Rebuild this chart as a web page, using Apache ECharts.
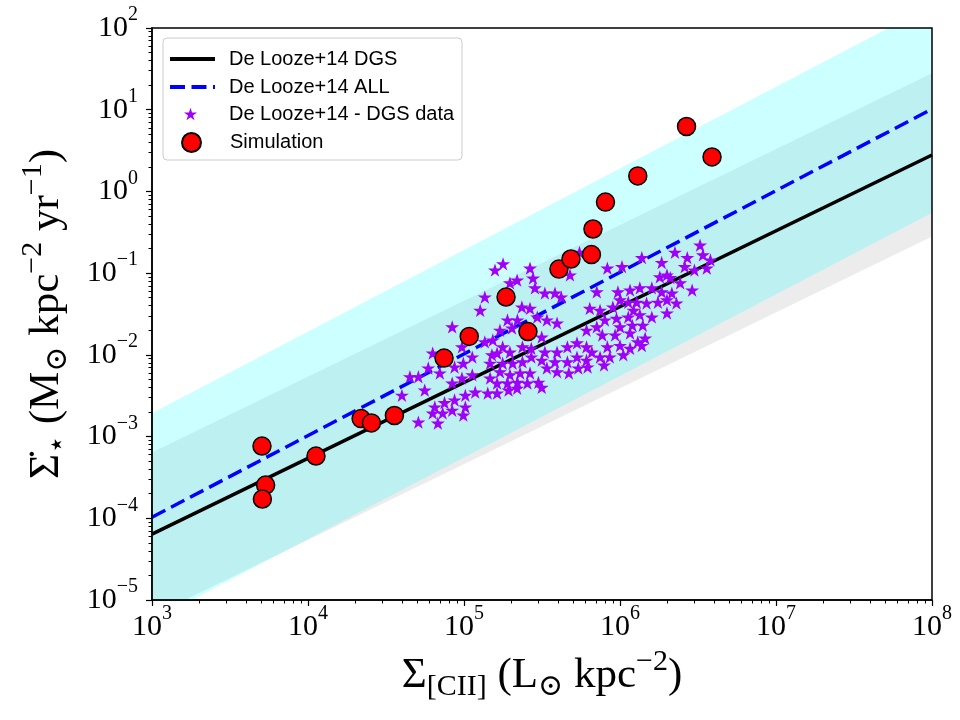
<!DOCTYPE html>
<html>
<head>
<meta charset="utf-8">
<script src="https://cdn.jsdelivr.net/npm/echarts@6/dist/echarts.min.js"></script>
<style>
html, body { margin: 0; background: #fff; }
#chart { width: 960px; height: 720px; }
</style>
</head>
<body>
<div id="chart"></div>
<script>
// axis ticks
const xTicks = [1e3, 1e4, 1e5, 1e6, 1e7, 1e8]
const yTicks = [1e-5, 1e-4, 1e-3, 1e-2, 1e-1, 1e0, 1e1, 1e2]

// fit lines (end points at the axis limits)
const lineX = [1e3, 1e8]
const dgsY = [6.4e-5, 2.79]
const allY = [1.03e-4, 10.2]

// scatter bands around the fits
const allUpper = [1.93e-3, 190]
const allLower = [5.6e-6, 0.55]
const dgsUpper = [6.4e-4, 27.9]
const dgsLower = [6.4e-6, 0.28]

// De Looze+14 DGS galaxies
const starX = [
  4.0e4, 4.5e4, 5.1e4, 5.6e4, 5.9e4, 7.0e4, 6.3e4, 5.1e4, 6.8e4, 6.5e4,
  7.5e4, 8.7e4, 1.02e5, 6.3e4, 7.3e4, 8.4e4, 9.9e4, 8.4e4, 9.7e4, 1.13e5,
  1.47e5, 1.02e5, 1.18e5, 1.42e5, 8.4e4, 9.7e4, 1.13e5, 9.9e4, 8.7e4, 1.51e5,
  1.47e5, 1.36e5, 1.53e5, 1.36e5, 1.27e5, 1.58e5, 1.78e5,
  2.65e5, 2.77e5, 2.19e5, 1.97e5, 2.85e5, 3.3e5, 3.83e5, 4.2e5, 2.35e5, 2.65e5,
  4.78e5, 6.4e5, 7.45e5, 7.1e5, 1.9e5, 2.2e5, 2.95e5, 3.4e5, 3.95e5, 1.7e5,
  2.03e5, 3.15e5, 6.1e5, 7.1e5, 7.7e5, 1.77e5, 1.97e5, 1.63e5, 2.37e5, 2.7e5,
  3.3e5, 3.95e5, 4.6e5, 5.3e5, 6.1e5, 6.6e5, 7.45e5, 1.77e5, 2.05e5, 2.37e5,
  2.7e5, 3.15e5, 3.83e5, 4.6e5, 5.3e5, 6.1e5, 1.7e5, 1.97e5, 2.29e5, 2.65e5,
  3.4e5, 3.95e5, 4.7e5, 5.4e5, 6.2e5, 1.63e5, 1.9e5, 2.2e5, 2.55e5, 3.0e5,
  3.15e5, 1.63e5, 1.93e5, 2.19e5,
  3.26e6, 3.4e6, 2.7e6, 2.25e6, 2.6e6, 3.0e6, 3.6e6, 3.8e6, 1.38e6, 8.3e5,
  1.03e6, 1.85e6, 2.0e6, 1.8e6, 2.43e6, 2.9e6, 9.7e5, 1.16e6, 1.34e6, 1.6e6,
  1.85e6, 2.15e6, 1.0e6, 1.13e6, 1.28e6, 1.48e6, 1.75e6, 2.0e6, 2.3e6, 9.0e5,
  1.22e6, 2.0e6, 8.0e5, 9.5e5, 1.13e6, 1.34e6, 1.6e6, 1.0e6, 1.2e6, 1.4e6,
  9.3e5, 1.16e6, 1.45e6, 1.3e6, 8.3e5, 1.0e6, 1.16e6, 1.38e6, 8.6e5, 1.05e6,
  7.9e5, 2.1e6, 5.5e5
]
const starY = [
  3.2e-3, 5.4e-3, 5.4e-3, 3.7e-3, 6.9e-3, 6.0e-3, 1.05e-2, 1.5e-3, 1.46e-3, 2.3e-3,
  2.6e-3, 2.8e-3, 2.3e-3, 1.94e-3, 1.94e-3, 2.1e-3, 1.83e-3, 4.5e-3, 5.2e-3, 5.7e-3,
  5.2e-3, 3.2e-3, 3.5e-3, 3.4e-3, 2.2e-2, 1.25e-2, 9.4e-3, 7.9e-3, 7.1e-3, 1.0e-2,
  7.9e-3, 1.44e-2, 1.52e-2, 5.1e-2, 3.5e-2, 0.109, 0.13,
  0.115, 8.7e-2, 8.2e-2, 7.6e-2, 6.6e-2, 5.7e-2, 5.7e-2, 5.1e-2, 3.85e-2, 3.7e-2,
  9.5e-2, 3.7e-2, 3.5e-2, 5.9e-2, 2.67e-2, 2.67e-2, 2.9e-2, 2.67e-2, 2.45e-2, 2.0e-2,
  2.13e-2, 1.65e-2, 2.0e-2, 2.2e-2, 1.75e-2, 1.25e-2, 1.08e-2, 1.05e-2, 1.25e-2, 1.2e-2,
  1.08e-2, 1.08e-2, 1.25e-2, 1.4e-2, 1.25e-2, 1.08e-2, 9.4e-3, 7.9e-3, 7.9e-3, 8.2e-3,
  9.4e-3, 8.6e-3, 8.2e-3, 8.2e-3, 9.4e-3, 8.6e-3, 6.2e-3, 5.7e-3, 6.0e-3, 6.0e-3,
  6.9e-3, 6.2e-3, 6.0e-3, 6.9e-3, 7.1e-3, 4.5e-3, 4.5e-3, 4.6e-3, 4.5e-3, 4.6e-3,
  4.0e-3, 3.4e-3, 3.7e-3, 3.9e-3,
  0.22, 0.167, 0.155, 0.18, 0.12, 0.109, 0.115, 0.145, 0.155, 0.115,
  0.12, 0.135, 9.5e-2, 9.0e-2, 7.6e-2, 6.2e-2, 5.9e-2, 6.2e-2, 6.6e-2, 6.6e-2,
  5.9e-2, 5.7e-2, 4.7e-2, 4.4e-2, 4.4e-2, 4.3e-2, 4.4e-2, 4.7e-2, 4.3e-2, 3.85e-2,
  3.5e-2, 3.25e-2, 2.67e-2, 2.8e-2, 2.9e-2, 3.1e-2, 2.9e-2, 2.2e-2, 2.3e-2, 2.3e-2,
  1.75e-2, 1.85e-2, 1.6e-2, 1.44e-2, 1.25e-2, 1.3e-2, 1.2e-2, 1.3e-2, 9.4e-3, 1.0e-2,
  7.5e-3, 8.8e-2, 0.18
]

// simulation
const simX = [5.07e3, 5.35e3, 5.1e3, 1.125e4, 2.19e4, 2.55e4, 3.58e4, 7.45e4, 1.08e5, 1.86e5,
  2.57e5, 4.06e5, 4.85e5, 6.56e5, 6.71e5, 8.07e5, 1.30e6, 2.67e6, 3.89e6]
const simY = [7.66e-4, 2.55e-4, 1.72e-4, 5.78e-4, 1.66e-3, 1.47e-3, 1.81e-3, 9.14e-3, 1.68e-2, 5.1e-2,
  1.93e-2, 0.112, 0.149, 0.169, 0.347, 0.741, 1.55, 6.23, 2.64]

// minor ticks 2..9 x 10^n
const xMinor = []
for (let d = 0; d < xTicks.length - 1; d++) for (let m = 2; m <= 9; m++) xMinor.push(m * xTicks[d])
const yMinor = []
for (let d = 0; d < yTicks.length - 1; d++) for (let m = 2; m <= 9; m++) yMinor.push(m * yTicks[d])

const serif = "'Liberation Serif', 'DejaVu Serif', serif"
const sans = "'Liberation Sans', Arial, sans-serif"
const starPath = 'path://M50 0L61.23 34.55L97.55 34.55L68.16 55.9L79.39 90.45L50 69.1L20.61 90.45L31.84 55.9L2.45 34.55L38.77 34.55Z'

const tickRich = {
  b: { fontSize: 30, fontFamily: serif, color: '#000' },
  e: { fontSize: 20, fontFamily: serif, color: '#000', padding: [0, 0, 26, 0] }
}
function powLabel(v) {
  const n = Math.round(Math.log10(v))
  return '{b|10}{e|' + String(n).replace('-', '\u2212') + '}'
}
const titleRich = {
  m: { fontSize: 43, fontFamily: serif, color: '#000' },
  sub: { fontSize: 30, fontFamily: serif, color: '#000', padding: [22, 0, 0, 0] },
  sup: { fontSize: 30, fontFamily: serif, color: '#000', padding: [0, 0, 28, 0] }
}

function band(upper, lower, color) {
  return {
    type: 'custom', silent: true, clip: true, z: 1,
    xAxisIndex: 0, yAxisIndex: 0,
    data: lineX.map((x, i) => [x, upper[i], lower[i]]),
    encode: { x: 0, y: [1, 2] },
    renderItem(params, api) {
      if (params.dataIndex !== 0) return
      const top = lineX.map((x, i) => api.coord([x, upper[i]]))
      const bot = lineX.map((x, i) => api.coord([x, lower[i]])).reverse()
      return { type: 'polygon', shape: { points: top.concat(bot) }, style: { fill: color } }
    }
  }
}

function legendRow(name, left, top, w, h, pad, isLine) {
  const row = {
    orient: 'vertical', left, top, itemWidth: w, itemHeight: h, padding: 0,
    selectedMode: false, data: [name],
    formatter: '{t|{name}}',
    textStyle: {
      fontSize: 20, fontFamily: sans, color: '#000',
      rich: { t: { fontSize: 20, fontFamily: sans, color: '#000', padding: [0, 0, 0, pad] } }
    }
  }
  if (isLine) {
    row.itemStyle = { opacity: 0 }
    row.lineStyle = { width: 4 }
  }
  return row
}

const grid = { left: 152, right: 28, top: 28, bottom: 120 }

const chart = echarts.init(document.getElementById('chart'))
chart.setOption({
  animation: false,
  grid: [grid, grid],
  xAxis: [{
    type: 'log', logBase: 10, min: 1e3, max: 1e8, gridIndex: 0,
    axisLine: { show: true, lineStyle: { color: '#000', width: 1.5 } },
    axisTick: { show: true, length: 6, customValues: xTicks, lineStyle: { color: '#000', width: 1.2 } },
    axisLabel: { customValues: xTicks, formatter: powLabel, rich: tickRich, margin: 4 },
    splitLine: { show: false },
    name: '{m|\u03A3}{sub|[CII]}{m| (L}{sub|\u2299}{m| kpc}{sup|\u22122}{m|)}',
    nameLocation: 'middle', nameGap: 44, nameTextStyle: { rich: titleRich }
  }, {
    type: 'log', logBase: 10, min: 1e3, max: 1e8, gridIndex: 1,
    axisLine: { show: false },
    axisTick: { show: true, length: 3.5, customValues: xMinor, lineStyle: { color: '#000', width: 1 } },
    axisLabel: { show: false }, splitLine: { show: false }
  }],
  yAxis: [{
    type: 'log', logBase: 10, min: 1e-5, max: 1e2, gridIndex: 0,
    axisLine: { show: true, lineStyle: { color: '#000', width: 1.5 } },
    axisTick: { show: true, length: 6, customValues: yTicks, lineStyle: { color: '#000', width: 1.2 } },
    axisLabel: { customValues: yTicks, formatter: powLabel, rich: tickRich, margin: 14 },
    splitLine: { show: false },
    name: '{m|\u03A3\u0307}{sub|\u22C6}{m| (M}{sub|\u2299}{m| kpc}{sup|\u22122}{m| yr}{sup|\u22121}{m|)}',
    nameLocation: 'middle', nameRotate: 90, nameGap: 76, nameTextStyle: { rich: titleRich }
  }, {
    type: 'log', logBase: 10, min: 1e-5, max: 1e2, gridIndex: 1,
    axisLine: { show: false },
    axisTick: { show: true, length: 3.5, customValues: yMinor, lineStyle: { color: '#000', width: 1 } },
    axisLabel: { show: false }, splitLine: { show: false }
  }],
  legend: [
    legendRow('De Looze+14 DGS', 168, 49, 45, 20, 9, true),
    legendRow('De Looze+14 ALL', 168, 77, 45, 20, 9, true),
    legendRow('De Looze+14 - DGS data', 184, 104, 13, 13, 27, false),
    legendRow('Simulation', 181, 132, 19, 19, 24, false)
  ],
  graphic: [
    { type: 'rect', z: 3, shape: { x: 163, y: 38, width: 299, height: 122, r: 4 },
      style: { fill: 'rgba(255,255,255,0.8)', stroke: '#cccccc', lineWidth: 1 } },
    { type: 'rect', z: 100, silent: true, shape: { x: 152, y: 28, width: 780, height: 572 },
      style: { fill: 'none', stroke: '#000', lineWidth: 1.5 } }
  ],
  series: [
    band(dgsUpper, dgsLower, 'rgba(128,128,128,0.15)'),
    band(allUpper, allLower, 'rgba(0,255,255,0.2)'),
    {
      name: 'De Looze+14 DGS', type: 'line', z: 2, symbol: 'none',
      data: lineX.map((x, i) => [x, dgsY[i]]),
      itemStyle: { color: '#000' },
      lineStyle: { color: '#000', width: 3.5 }
    },
    {
      name: 'De Looze+14 ALL', type: 'line', z: 2, symbol: 'none',
      data: lineX.map((x, i) => [x, allY[i]]),
      itemStyle: { color: '#0000ff' },
      lineStyle: { color: '#0000ff', width: 3.5, type: [15, 6.5] }
    },
    {
      name: 'De Looze+14 - DGS data', type: 'scatter', z: 3,
      symbol: starPath, symbolSize: 14, symbolKeepAspect: true,
      data: starX.map((x, i) => [x, starY[i]]),
      itemStyle: { color: '#a000f8', opacity: 1 }
    },
    {
      name: 'Simulation', type: 'scatter', z: 4,
      symbol: 'circle', symbolSize: 18,
      data: simX.map((x, i) => [x, simY[i]]),
      itemStyle: { color: '#ff0000', borderColor: '#000', borderWidth: 1.5, opacity: 1 }
    }
  ]
})
</script>
</body>
</html>
